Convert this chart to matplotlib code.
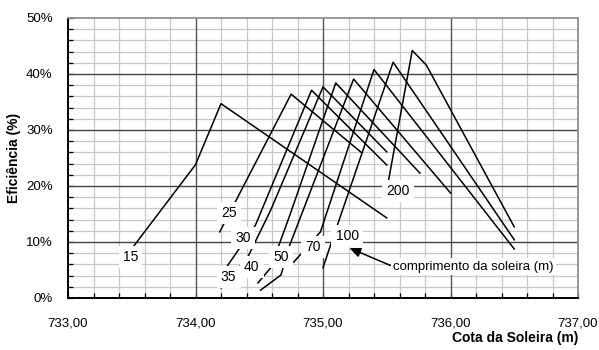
import matplotlib
matplotlib.use("Agg")
import matplotlib.pyplot as plt
import numpy as np
from matplotlib.ticker import MultipleLocator, FixedLocator, FuncFormatter

plt.rcParams['font.family'] = ['Liberation Sans', 'DejaVu Sans']

# series: sill length (m) -> (sill elevation m, efficiency %)
lengths = ["15", "25", "30", "35", "40", "50", "70", "100", "200"]
x15 = [733.5, 734.0, 734.2, 735.5]
y15 = [8.8, 23.8, 34.7, 14.3]
x25 = [734.19, 734.75, 735.3]
y25 = [11.8, 36.4, 26.0]
x30 = [734.24, 734.47, 734.91, 735.5]
y30 = [5.4, 13.0, 37.1, 23.75]
x35 = [734.2, 734.41, 734.59, 735.0, 735.5]
y35 = [1.8, 7.3, 15.7, 37.7, 26.1]
x40 = [734.49, 734.59, 734.74, 735.1, 735.76]
y40 = [2.7, 5.4, 14.8, 38.4, 22.3]
x50 = [734.51, 734.67, 734.74, 735.24, 736.0]
y50 = [1.4, 4.1, 9.5, 39.1, 18.75]
x70 = [734.77, 734.98, 735.4, 736.5]
y70 = [6.4, 11.8, 40.8, 8.75]
x100 = [735.0, 735.06, 735.55, 736.5]
y100 = [5.4, 9.5, 42.1, 10.4]
x200 = [735.51, 735.7, 735.81, 736.5]
y200 = [20.5, 44.2, 41.6, 12.7]

series_x = [x15, x25, x30, x35, x40, x50, x70, x100, x200]
series_y = [y15, y25, y30, y35, y40, y50, y70, y100, y200]

# label anchor points (x m, y %)
label_x = [733.49, 734.26, 734.37, 734.26, 734.44, 734.67, 734.92, 735.19, 735.59]
label_y = [7.3, 15.2, 10.7, 3.75, 5.5, 7.3, 9.1, 11.1, 19.1]

fig = plt.figure(figsize=(5.99, 3.5), dpi=100)
ax = fig.add_axes([68/599, 52/350, 510/599, 280/350])

ax.set_xlim(733, 737)
ax.set_ylim(0, 50)

ax.xaxis.set_major_locator(MultipleLocator(1))
ax.yaxis.set_major_locator(MultipleLocator(10))
xminor = [v for v in np.round(np.arange(733, 737.001, 0.2), 2) if abs(v - round(v)) > 1e-6]
yminor = [v for v in range(0, 51, 2) if v % 10 != 0]
ax.xaxis.set_minor_locator(FixedLocator(xminor))
ax.yaxis.set_minor_locator(FixedLocator(yminor))
ax.xaxis.set_major_formatter(FuncFormatter(lambda v, p: f"{v:.2f}".replace('.', ',')))
ax.yaxis.set_major_formatter(FuncFormatter(lambda v, p: f"{v:.0f}%"))

ax.grid(which='minor', color='#c8c8c8', lw=0.9)
ax.set_axisbelow(True)
for v in [734, 735, 736]:
    ax.axvline(v, color='#555555', lw=1.0, zorder=0.8)
for v in [10, 20, 30, 40]:
    ax.axhline(v, color='#444444', lw=1.0, zorder=0.8)

ax.tick_params(which='both', direction='in', length=3.5, width=0.9, color='black',
               labelsize=9.5)
ax.tick_params(axis='x', pad=14)
ax.tick_params(axis='y', pad=11)

for s in ['left', 'bottom']:
    ax.spines[s].set_color('black')
    ax.spines[s].set_linewidth(1.4)
for s in ['top', 'right']:
    ax.spines[s].set_color('#909090')
    ax.spines[s].set_linewidth(1.3)

for xs, ys in zip(series_x, series_y):
    ax.plot(xs, ys, color='black', lw=1.1, zorder=3)

for lab, lx, ly in zip(lengths, label_x, label_y):
    ax.text(lx, ly, lab, ha='center', va='center', fontsize=10, zorder=5,
            bbox=dict(boxstyle='square,pad=0.3', fc='white', ec='none'))

ax.annotate("comprimento da soleira (m)", xy=(735.207, 8.93), xytext=(736.18, 5.6),
            ha='center', va='center', fontsize=9.5, zorder=6,
            bbox=dict(boxstyle='square,pad=0.2', fc='white', ec='none'),
            arrowprops=dict(arrowstyle='-|>,head_length=0.7,head_width=0.3',
                            color='black', lw=1.1, shrinkA=0, shrinkB=0,
                            relpos=(0, 0.5)))

ax.set_ylabel("Eficiência (%)", fontsize=10, fontweight='bold')
ax.yaxis.set_label_coords((21 - 68) / 510, 0.5)
fig.text(578/599, 5/350, "Cota da Soleira (m)", ha='right', va='bottom',
         fontsize=10, fontweight='bold')

fig.savefig("out.png", dpi=100)
